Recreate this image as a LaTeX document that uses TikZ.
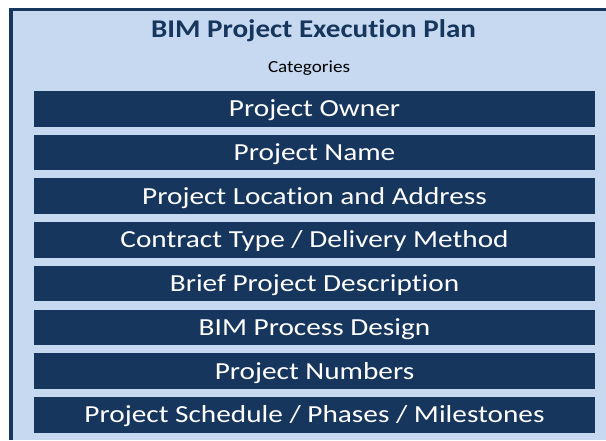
\documentclass[tikz,border=0pt]{standalone}
\usepackage{fontspec}
\setmainfont{Carlito}[Ligatures=NoCommon]
\definecolor{navy}{HTML}{17365D}
\definecolor{lightblue}{HTML}{C6D9F1}
\newcommand\barfont{\fontsize{24.5}{26}\selectfont}
\newcommand\ttlfont{\bfseries\fontsize{25.5}{28}\selectfont}
\newcommand\subfont{\fontsize{17}{19}\selectfont}
\newlength\barref
\newlength\ttlref
\newlength\subref
\settowidth\barref{\barfont Project Schedule / Phases / Milestones}
\settowidth\ttlref{\ttlfont BIM Project Execution Plan}
\settowidth\subref{\subfont Categories}
\pgfmathsetmacro\barsx{460/\barref}
\pgfmathsetmacro\ttlsx{325/\ttlref}
\pgfmathsetmacro\subsx{82/\subref}
\newcommand\barwide[1]{\scalebox{\barsx}[1]{#1}}
\tikzset{
  catbar/.style={fill=navy, text=white, minimum width=561pt, minimum height=35.5pt, inner sep=0pt, text height=16pt, text depth=0pt, font=\barfont},
  titletext/.style={text=navy, font=\ttlfont, anchor=base, inner sep=0pt},
  subtext/.style={text=black, font=\subfont, anchor=base, inner sep=0pt}
}
\begin{document}
\begin{tikzpicture}[x=1pt,y=-1pt]
\useasboundingbox (0,0) rectangle (606,440);
\fill[lightblue] (9,7.5) rectangle (606,440);
\fill[navy] (9,7.5) rectangle (606,10.5);
\fill[navy] (9,7.5) rectangle (12.5,440);
\node[titletext] (title) at (313.5,37) {\scalebox{\ttlsx}[1]{BIM Project Execution Plan}};
\node[subtext] (sub) at (309,72.8) {\scalebox{\subsx}[1]{Categories}};
\node[catbar] (b1) at (314.5,108.8) {\barwide{Project Owner}};
\node[catbar] (b2) at (314.5,152.5) {\barwide{Project Name}};
\node[catbar] (b3) at (314.5,196.2) {\barwide{Project Location and Address}};
\node[catbar] (b4) at (314.5,239.9) {\barwide{Contract Type / Delivery Method}};
\node[catbar] (b5) at (314.5,283.6) {\barwide{Brief Project Description}};
\node[catbar] (b6) at (314.5,327.3) {\barwide{BIM Process Design}};
\node[catbar] (b7) at (314.5,371.0) {\barwide{Project Numbers}};
\node[catbar] (b8) at (314.5,414.8) {\barwide{Project Schedule / Phases / Milestones}};
\end{tikzpicture}
\end{document}
